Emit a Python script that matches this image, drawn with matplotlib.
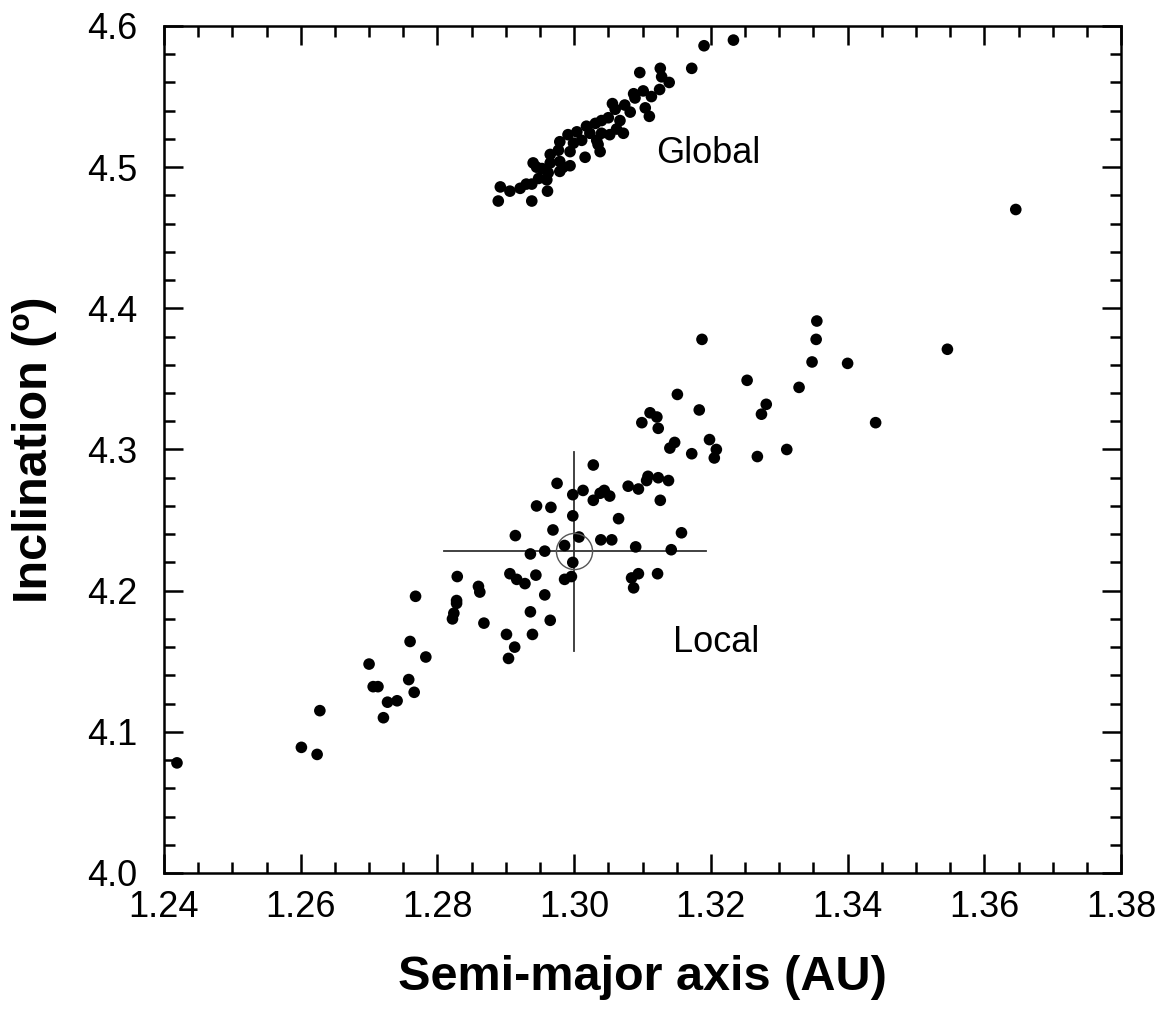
import matplotlib
matplotlib.use("Agg")
import matplotlib.pyplot as plt
from matplotlib.ticker import MultipleLocator, FormatStrFormatter

plt.rcParams['font.family'] = ['Liberation Sans', 'DejaVu Sans']

# Global solution cloud (a in AU, i in degrees)
global_a = [1.3233, 1.3190, 1.3172, 1.3096, 1.3126, 1.3128, 1.3139, 1.3125, 1.3113, 1.3101,
            1.3087, 1.3089, 1.3074, 1.3056, 1.3060, 1.3082, 1.3104, 1.3110, 1.3067, 1.3050,
            1.3040, 1.3031, 1.3018, 1.3004, 1.2991, 1.2979, 1.3011, 1.3023, 1.3040, 1.3052,
            1.3072, 1.3062, 1.3033, 1.3035, 1.3038, 1.3016, 1.2999, 1.2994, 1.2994, 1.2979,
            1.2977, 1.2965, 1.2965, 1.2962, 1.2953, 1.2940, 1.2945, 1.2948, 1.2960, 1.2938,
            1.2930, 1.2921, 1.2906, 1.2892, 1.2889, 1.2938, 1.2961, 1.2979, 1.2984, 1.3646]
global_i = [4.590, 4.586, 4.570, 4.567, 4.570, 4.564, 4.560, 4.555, 4.550, 4.554,
            4.552, 4.549, 4.544, 4.545, 4.541, 4.539, 4.542, 4.536, 4.533, 4.535,
            4.533, 4.531, 4.529, 4.525, 4.523, 4.518, 4.519, 4.524, 4.524, 4.523,
            4.524, 4.527, 4.519, 4.516, 4.511, 4.507, 4.517, 4.511, 4.501, 4.504,
            4.512, 4.509, 4.503, 4.496, 4.499, 4.503, 4.500, 4.492, 4.491, 4.488,
            4.488, 4.485, 4.483, 4.486, 4.476, 4.476, 4.483, 4.497, 4.500, 4.470]

# Local solution cloud
local_a = [1.2419, 1.2601, 1.2624, 1.2628, 1.2700, 1.2706, 1.2713, 1.2721, 1.2727, 1.2741,
           1.2758, 1.2760, 1.2766, 1.2768, 1.2783, 1.2822, 1.2824, 1.2828, 1.2828, 1.2829,
           1.2860, 1.2862, 1.2868, 1.2901, 1.2904, 1.2906, 1.2913, 1.2914, 1.2916, 1.2928,
           1.2936, 1.2936, 1.2939, 1.2944, 1.2945, 1.2957, 1.2957, 1.2965, 1.2966, 1.2969,
           1.2975, 1.2986, 1.2986, 1.2996, 1.2998, 1.2998, 1.2998, 1.3007, 1.3013, 1.3028,
           1.3028, 1.3038, 1.3039, 1.3044, 1.3052, 1.3055, 1.3065, 1.3079, 1.3084, 1.3087,
           1.3090, 1.3094, 1.3094, 1.3099, 1.3106, 1.3108, 1.3111, 1.3121, 1.3122, 1.3123,
           1.3123, 1.3126, 1.3138, 1.3140, 1.3142, 1.3147, 1.3151, 1.3157, 1.3172, 1.3183,
           1.3187, 1.3198, 1.3205, 1.3208, 1.3253, 1.3268, 1.3274, 1.3281, 1.3311, 1.3329,
           1.3348, 1.3354, 1.3355, 1.3400, 1.3441, 1.3546]
local_i = [4.078, 4.089, 4.084, 4.115, 4.148, 4.132, 4.132, 4.110, 4.121, 4.122,
           4.137, 4.164, 4.128, 4.196, 4.153, 4.180, 4.184, 4.193, 4.191, 4.210,
           4.203, 4.199, 4.177, 4.169, 4.152, 4.212, 4.160, 4.239, 4.208, 4.205,
           4.226, 4.185, 4.169, 4.211, 4.260, 4.228, 4.197, 4.179, 4.259, 4.243,
           4.276, 4.232, 4.208, 4.210, 4.268, 4.253, 4.220, 4.238, 4.271, 4.289,
           4.264, 4.269, 4.236, 4.271, 4.267, 4.236, 4.251, 4.274, 4.209, 4.202,
           4.231, 4.272, 4.212, 4.319, 4.278, 4.281, 4.326, 4.323, 4.212, 4.280,
           4.315, 4.264, 4.278, 4.301, 4.229, 4.305, 4.339, 4.241, 4.297, 4.328,
           4.378, 4.307, 4.294, 4.300, 4.349, 4.295, 4.325, 4.332, 4.300, 4.344,
           4.362, 4.378, 4.391, 4.361, 4.319, 4.371]

# nominal orbit with its uncertainty bars
nominal_a, nominal_i = 1.300, 4.228
err_a_lo, err_a_hi = 0.019, 0.0193
err_i_lo, err_i_hi = 0.071, 0.070

fig = plt.figure(figsize=(11.68, 10.11), dpi=100)
ax = fig.add_axes([0.1404, 0.1365, 0.8194, 0.8378])

ax.scatter(global_a, global_i, s=70, c="black", edgecolors="none", zorder=3)
ax.scatter(local_a, local_i, s=70, c="black", edgecolors="none", zorder=3)

# crosshair and circle around the nominal solution
ax.plot([nominal_a - err_a_lo, nominal_a + err_a_hi], [nominal_i, nominal_i], color="#333333", lw=1.3, zorder=2)
ax.plot([nominal_a, nominal_a], [nominal_i - err_i_lo, nominal_i + err_i_hi], color="#333333", lw=1.3, zorder=2)
ax.plot([nominal_a], [nominal_i], marker="o", ms=26, mfc="none", mec="#555555", mew=1.0, zorder=4)

ax.text(1.3196, 4.51, "Global", fontsize=26, ha="center", va="center")
ax.text(1.3207, 4.163, "Local", fontsize=26, ha="center", va="center")

ax.set_xlim(1.24, 1.38)
ax.set_ylim(4.0, 4.6)
ax.xaxis.set_major_locator(MultipleLocator(0.02))
ax.xaxis.set_minor_locator(MultipleLocator(0.005))
ax.yaxis.set_major_locator(MultipleLocator(0.1))
ax.yaxis.set_minor_locator(MultipleLocator(0.02))
ax.xaxis.set_major_formatter(FormatStrFormatter("%.2f"))
ax.yaxis.set_major_formatter(FormatStrFormatter("%.1f"))

ax.tick_params(which="both", direction="in", top=True, right=True, width=1.8, color="black")
ax.tick_params(which="major", length=14, labelsize=26)
ax.tick_params(which="minor", length=8)
ax.tick_params(axis="x", which="major", pad=12)
ax.tick_params(axis="y", which="major", pad=19)
for s in ax.spines.values():
    s.set_linewidth(1.8)

ax.set_xlabel("Semi-major axis (AU)", fontsize=35, fontweight="bold", labelpad=22)
ax.set_ylabel("Inclination (º)", fontsize=35, fontweight="bold", labelpad=22)

fig.savefig("out.png", dpi=100)
